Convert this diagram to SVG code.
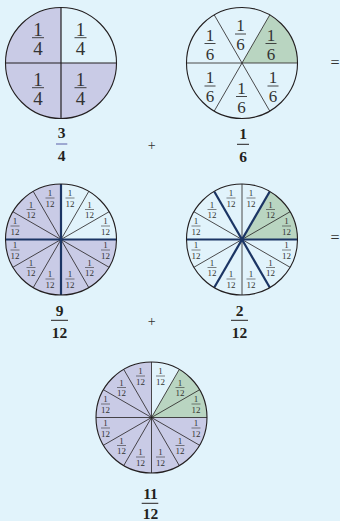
<svg xmlns="http://www.w3.org/2000/svg" width="340" height="521" viewBox="0 0 340 521">
<style>
.bg{fill:#e1f3fb}
.pu{fill:#c9cbe6}
.gr{fill:#b9d5c1}
.wh{fill:#e1f3fb}
.rim{fill:none;stroke:#231f20;stroke-width:1.1}
.thin{stroke:#231f20;stroke-width:0.8;fill:none}
.mid{stroke:#231f20;stroke-width:1.2;fill:none}
.thick{stroke:#1b3564;stroke-width:2.2;fill:none}
.in{font-family:"Liberation Serif",serif;fill:#333;text-anchor:middle}
.f4{font-size:19px}
.f6{font-size:17px}
.f12{font-size:9px}
.fl{stroke:#333;stroke-width:0.9}
.fl12{stroke:#333;stroke-width:0.6}
.lab{font-family:"Liberation Serif",serif;font-weight:bold;font-size:15.5px;fill:#231f20;text-anchor:middle}
.bar{stroke:#231f20;stroke-width:1}
.op{font-family:"Liberation Serif",serif;fill:#333;text-anchor:middle}
</style>
<rect class="bg" x="0" y="0" width="340" height="521"/>

<g id="quarters">
<circle class="pu" cx="61" cy="63" r="55.5"/>
<path class="wh" d="M61,63 L61,7.5 A55.5,55.5 0 0 1 116.5,63 Z"/>
<line class="mid" x1="61" y1="7.5" x2="61" y2="118.5"/>
<line class="mid" x1="5.5" y1="63" x2="116.5" y2="63"/>
<circle class="rim" cx="61" cy="63" r="55.5"/>
<g class="in f4">
<g transform="translate(38,37.7)"><text y="-2">1</text><line class="fl" x1="-6" x2="6"/><text y="17.3">4</text></g>
<g transform="translate(80.5,37.7)"><text y="-2">1</text><line class="fl" x1="-6" x2="6"/><text y="17.3">4</text></g>
<g transform="translate(38,87.7)"><text y="-2">1</text><line class="fl" x1="-6" x2="6"/><text y="17.3">4</text></g>
<g transform="translate(80.5,87.7)"><text y="-2">1</text><line class="fl" x1="-6" x2="6"/><text y="17.3">4</text></g>
</g>
</g>

<g id="sixths">
<circle class="wh" cx="242" cy="63" r="55.5"/>
<path class="gr" d="M242,63 L297.5,63 A55.5,55.5 0 0 0 269.75,14.94 Z"/>
<line class="thin" x1="186.5" y1="63" x2="297.5" y2="63"/>
<line class="thin" x1="269.75" y1="14.94" x2="214.25" y2="111.06"/>
<line class="thin" x1="214.25" y1="14.94" x2="269.75" y2="111.06"/>
<circle class="rim" cx="242" cy="63" r="55.5"/>
<g class="in f6">
<g transform="translate(240.5,34)"><text y="-3">1</text><line class="fl" x1="-5.5" x2="5.5"/><text y="16">6</text></g>
<g transform="translate(210,43.5)"><text y="-3">1</text><line class="fl" x1="-5.5" x2="5.5"/><text y="16">6</text></g>
<g transform="translate(271,43.5)"><text y="-3">1</text><line class="fl" x1="-5.5" x2="5.5"/><text y="16">6</text></g>
<g transform="translate(210,86)"><text y="-3">1</text><line class="fl" x1="-5.5" x2="5.5"/><text y="16">6</text></g>
<g transform="translate(273,86)"><text y="-3">1</text><line class="fl" x1="-5.5" x2="5.5"/><text y="16">6</text></g>
<g transform="translate(241.5,96.5)"><text y="-3">1</text><line class="fl" x1="-5.5" x2="5.5"/><text y="16">6</text></g>
</g>
</g>

<g id="nine-twelfths">
<circle class="pu" cx="61" cy="239.5" r="55.5"/>
<path class="wh" d="M61,239.5 L61,184 A55.5,55.5 0 0 1 116.5,239.5 Z"/>
<line class="thin" x1="109.06" y1="211.75" x2="12.94" y2="267.25"/>
<line class="thin" x1="88.75" y1="191.44" x2="33.25" y2="287.56"/>
<line class="thin" x1="33.25" y1="191.44" x2="88.75" y2="287.56"/>
<line class="thin" x1="12.94" y1="211.75" x2="109.06" y2="267.25"/>
<line class="thick" x1="61" y1="184" x2="61" y2="295"/>
<line class="thick" x1="5.5" y1="239.5" x2="116.5" y2="239.5"/>
<circle class="rim" cx="61" cy="239.5" r="55.5"/>
<g class="in f12">
<g transform="translate(70,198)"><text y="-1.7">1</text><line class="fl12" x1="-4.5" x2="4.5"/><text y="8.8">12</text></g>
<g transform="translate(50,198)"><text y="-1.7">1</text><line class="fl12" x1="-4.5" x2="4.5"/><text y="8.8">12</text></g>
<g transform="translate(89.5,209.5)"><text y="-1.7">1</text><line class="fl12" x1="-4.5" x2="4.5"/><text y="8.8">12</text></g>
<g transform="translate(31,209.5)"><text y="-1.7">1</text><line class="fl12" x1="-4.5" x2="4.5"/><text y="8.8">12</text></g>
<g transform="translate(105.5,226)"><text y="-1.7">1</text><line class="fl12" x1="-4.5" x2="4.5"/><text y="8.8">12</text></g>
<g transform="translate(15,226)"><text y="-1.7">1</text><line class="fl12" x1="-4.5" x2="4.5"/><text y="8.8">12</text></g>
<g transform="translate(105.5,250)"><text y="-1.7">1</text><line class="fl12" x1="-4.5" x2="4.5"/><text y="8.8">12</text></g>
<g transform="translate(15,250)"><text y="-1.7">1</text><line class="fl12" x1="-4.5" x2="4.5"/><text y="8.8">12</text></g>
<g transform="translate(89.5,267.5)"><text y="-1.7">1</text><line class="fl12" x1="-4.5" x2="4.5"/><text y="8.8">12</text></g>
<g transform="translate(31,267.5)"><text y="-1.7">1</text><line class="fl12" x1="-4.5" x2="4.5"/><text y="8.8">12</text></g>
<g transform="translate(70,279)"><text y="-1.7">1</text><line class="fl12" x1="-4.5" x2="4.5"/><text y="8.8">12</text></g>
<g transform="translate(50,279)"><text y="-1.7">1</text><line class="fl12" x1="-4.5" x2="4.5"/><text y="8.8">12</text></g>
</g>
</g>

<g id="two-twelfths">
<circle class="wh" cx="242" cy="239.5" r="55.5"/>
<path class="gr" d="M242,239.5 L297.5,239.5 A55.5,55.5 0 0 0 269.75,191.44 Z"/>
<line class="thin" x1="242" y1="184" x2="242" y2="295"/>
<line class="thin" x1="290.06" y1="211.75" x2="193.94" y2="267.25"/>
<line class="thin" x1="193.94" y1="211.75" x2="290.06" y2="267.25"/>
<line class="thick" x1="186.5" y1="239.5" x2="297.5" y2="239.5"/>
<line class="thick" x1="269.75" y1="191.44" x2="214.25" y2="287.56"/>
<line class="thick" x1="214.25" y1="191.44" x2="269.75" y2="287.56"/>
<circle class="rim" cx="242" cy="239.5" r="55.5"/>
<g class="in f12">
<g transform="translate(251,198)"><text y="-1.7">1</text><line class="fl12" x1="-4.5" x2="4.5"/><text y="8.8">12</text></g>
<g transform="translate(231,198)"><text y="-1.7">1</text><line class="fl12" x1="-4.5" x2="4.5"/><text y="8.8">12</text></g>
<g transform="translate(270.5,209.5)"><text y="-1.7">1</text><line class="fl12" x1="-4.5" x2="4.5"/><text y="8.8">12</text></g>
<g transform="translate(212,209.5)"><text y="-1.7">1</text><line class="fl12" x1="-4.5" x2="4.5"/><text y="8.8">12</text></g>
<g transform="translate(286.5,226)"><text y="-1.7">1</text><line class="fl12" x1="-4.5" x2="4.5"/><text y="8.8">12</text></g>
<g transform="translate(196,226)"><text y="-1.7">1</text><line class="fl12" x1="-4.5" x2="4.5"/><text y="8.8">12</text></g>
<g transform="translate(286.5,250)"><text y="-1.7">1</text><line class="fl12" x1="-4.5" x2="4.5"/><text y="8.8">12</text></g>
<g transform="translate(196,250)"><text y="-1.7">1</text><line class="fl12" x1="-4.5" x2="4.5"/><text y="8.8">12</text></g>
<g transform="translate(270.5,267.5)"><text y="-1.7">1</text><line class="fl12" x1="-4.5" x2="4.5"/><text y="8.8">12</text></g>
<g transform="translate(212,267.5)"><text y="-1.7">1</text><line class="fl12" x1="-4.5" x2="4.5"/><text y="8.8">12</text></g>
<g transform="translate(251,279)"><text y="-1.7">1</text><line class="fl12" x1="-4.5" x2="4.5"/><text y="8.8">12</text></g>
<g transform="translate(231,279)"><text y="-1.7">1</text><line class="fl12" x1="-4.5" x2="4.5"/><text y="8.8">12</text></g>
</g>
</g>

<g id="eleven-twelfths">
<circle class="pu" cx="151.5" cy="417.5" r="55.5"/>
<path class="wh" d="M151.5,417.5 L151.5,362 A55.5,55.5 0 0 1 179.25,369.44 Z"/>
<path class="gr" d="M151.5,417.5 L207,417.5 A55.5,55.5 0 0 0 179.25,369.44 Z"/>
<line class="thin" x1="151.5" y1="362" x2="151.5" y2="473"/>
<line class="thin" x1="96" y1="417.5" x2="207" y2="417.5"/>
<line class="thin" x1="199.56" y1="389.75" x2="103.44" y2="445.25"/>
<line class="thin" x1="179.25" y1="369.44" x2="123.75" y2="465.56"/>
<line class="thin" x1="123.75" y1="369.44" x2="179.25" y2="465.56"/>
<line class="thin" x1="103.44" y1="389.75" x2="199.56" y2="445.25"/>
<circle class="rim" cx="151.5" cy="417.5" r="55.5"/>
<g class="in f12">
<g transform="translate(160.5,376)"><text y="-1.7">1</text><line class="fl12" x1="-4.5" x2="4.5"/><text y="8.8">12</text></g>
<g transform="translate(140.5,376)"><text y="-1.7">1</text><line class="fl12" x1="-4.5" x2="4.5"/><text y="8.8">12</text></g>
<g transform="translate(180,387.5)"><text y="-1.7">1</text><line class="fl12" x1="-4.5" x2="4.5"/><text y="8.8">12</text></g>
<g transform="translate(121.5,387.5)"><text y="-1.7">1</text><line class="fl12" x1="-4.5" x2="4.5"/><text y="8.8">12</text></g>
<g transform="translate(196,404)"><text y="-1.7">1</text><line class="fl12" x1="-4.5" x2="4.5"/><text y="8.8">12</text></g>
<g transform="translate(105.5,404)"><text y="-1.7">1</text><line class="fl12" x1="-4.5" x2="4.5"/><text y="8.8">12</text></g>
<g transform="translate(196,428)"><text y="-1.7">1</text><line class="fl12" x1="-4.5" x2="4.5"/><text y="8.8">12</text></g>
<g transform="translate(105.5,428)"><text y="-1.7">1</text><line class="fl12" x1="-4.5" x2="4.5"/><text y="8.8">12</text></g>
<g transform="translate(180,445.5)"><text y="-1.7">1</text><line class="fl12" x1="-4.5" x2="4.5"/><text y="8.8">12</text></g>
<g transform="translate(121.5,445.5)"><text y="-1.7">1</text><line class="fl12" x1="-4.5" x2="4.5"/><text y="8.8">12</text></g>
<g transform="translate(160.5,457)"><text y="-1.7">1</text><line class="fl12" x1="-4.5" x2="4.5"/><text y="8.8">12</text></g>
<g transform="translate(140.5,457)"><text y="-1.7">1</text><line class="fl12" x1="-4.5" x2="4.5"/><text y="8.8">12</text></g>
</g>
</g>

<g id="labels">
<g id="lab-3-4"><text class="lab" x="61.7" y="138.3">3</text><line x1="56" y1="144" x2="67.3" y2="144" stroke="#5a5fa8" stroke-width="1"/><text class="lab" x="61.7" y="161">4</text></g>
<g id="lab-1-6"><text class="lab" x="243" y="138.5">1</text><line class="bar" x1="237" y1="144.3" x2="249" y2="144.3"/><text class="lab" x="243" y="162">6</text></g>
<g id="lab-9-12"><text class="lab" x="59.5" y="316">9</text><line class="bar" x1="51" y1="320.3" x2="68" y2="320.3"/><text class="lab" x="59.5" y="338.3">12</text></g>
<g id="lab-2-12"><text class="lab" x="239.5" y="316">2</text><line class="bar" x1="231" y1="320.3" x2="248" y2="320.3"/><text class="lab" x="239.5" y="338.3">12</text></g>
<g id="lab-11-12"><text class="lab" x="150.5" y="499.3">11</text><line class="bar" x1="141.7" y1="503.3" x2="158.3" y2="503.3"/><text class="lab" x="150.5" y="519">12</text></g>
<text class="op" x="151.7" y="150" font-size="14">+</text>
<text class="op" x="151.7" y="325.7" font-size="14">+</text>
<text class="op" x="335" y="67.6" font-size="16">=</text>
<text class="op" x="335" y="243" font-size="16">=</text>
</g>
</svg>
